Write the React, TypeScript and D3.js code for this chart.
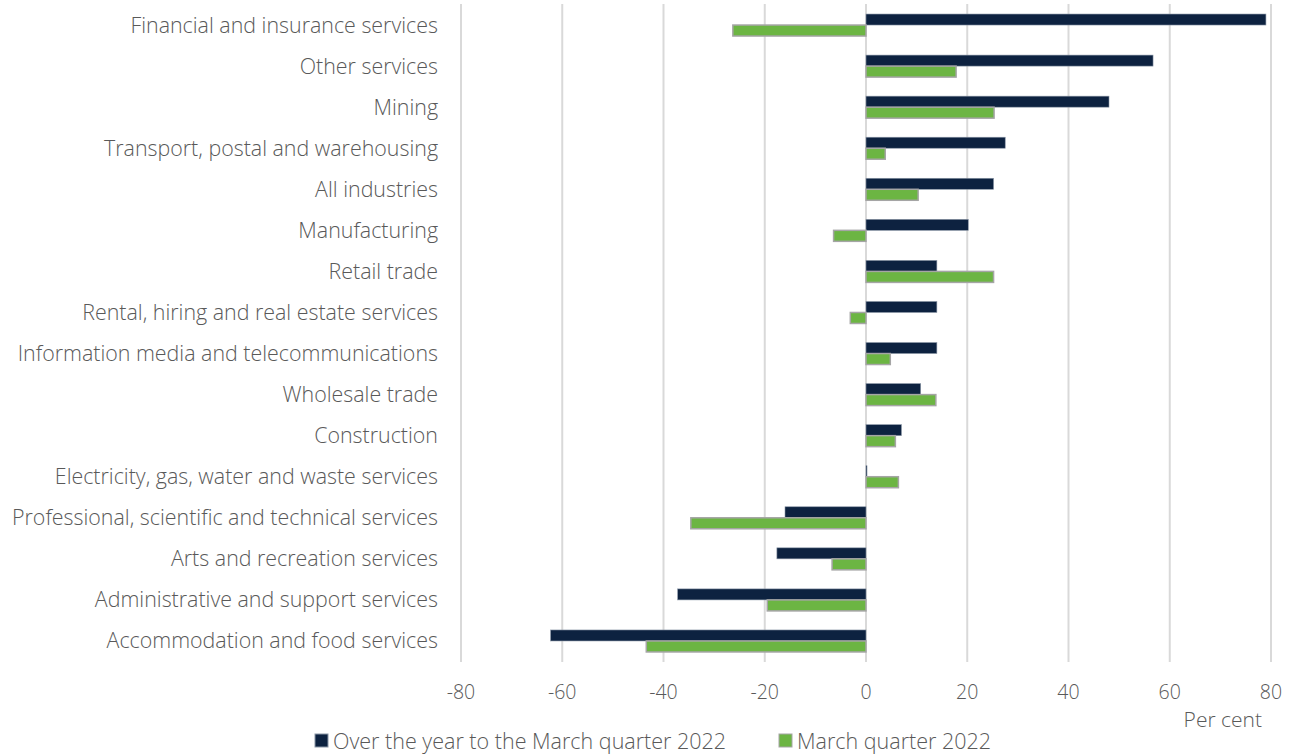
import React, { useEffect, useRef } from "react";
import * as d3 from "d3";

const categories: string[] = [
  "Financial and insurance services",
  "Other services",
  "Mining",
  "Transport, postal and warehousing",
  "All industries",
  "Manufacturing",
  "Retail trade ",
  "Rental, hiring and real estate services",
  "Information media and telecommunications",
  "Wholesale trade",
  "Construction",
  "Electricity, gas, water and waste services ",
  "Professional, scientific and technical services",
  "Arts and recreation services",
  "Administrative and support services",
  "Accommodation and food services",
];

const overYear: number[] = [
  79.0, 56.7, 48.0, 27.5, 25.2, 20.2, 14.0, 14.0, 14.0, 10.8, 7.0, 0.2, -16.0, -17.6, -37.2, -62.3,
];

const marchQuarter: number[] = [
  -26.3, 17.8, 25.3, 3.8, 10.3, -6.4, 25.2, -3.1, 4.8, 13.8, 5.8, 6.4, -34.6, -6.7, -19.5, -43.4,
];

const xTicks: number[] = [-80, -60, -40, -20, 0, 20, 40, 60, 80];

const seriesNames: string[] = ["Over the year to the March quarter 2022", "March quarter 2022"];

const W = 1294;
const H = 756;

export default function App() {
  const ref = useRef<SVGSVGElement | null>(null);

  useEffect(() => {
    const svg = d3.select(ref.current);
    svg.selectAll("*").remove();

    const font = "'Open Sans', Lato, sans-serif";
    const textColor = "#595959";
    const navy = "#0d2240";
    const green = "#6cb543";

    const x = d3.scaleLinear().domain([-80, 80]).range([461, 1271]);
    const y = d3.scaleBand<string>().domain(categories).range([4.5, 661.5]).padding(0);
    const bw = y.bandwidth();
    const barH = 11;

    // gridlines
    svg
      .append("g")
      .selectAll("line")
      .data(xTicks)
      .join("line")
      .attr("x1", (d) => x(d))
      .attr("x2", (d) => x(d))
      .attr("y1", 4)
      .attr("y2", 662)
      .attr("stroke", "#d9d9d9")
      .attr("stroke-width", 2);

    // bars
    const g = svg.append("g");
    categories.forEach((c, i) => {
      const cy = (y(c) as number) + bw / 2;
      const v1 = overYear[i];
      const v2 = marchQuarter[i];
      g.append("rect")
        .attr("x", Math.min(x(0), x(v1)))
        .attr("y", cy - barH)
        .attr("width", Math.abs(x(v1) - x(0)))
        .attr("height", barH)
        .attr("fill", navy)
        .attr("stroke", "#8a96a6")
        .attr("stroke-width", 0.6);
      g.append("rect")
        .attr("x", Math.min(x(0), x(v2)))
        .attr("y", cy)
        .attr("width", Math.abs(x(v2) - x(0)))
        .attr("height", barH)
        .attr("fill", green)
        .attr("stroke", "#a5a5a5")
        .attr("stroke-width", 1.5);
    });

    // category labels
    svg
      .append("g")
      .selectAll("text")
      .data(categories)
      .join("text")
      .attr("x", 438)
      .attr("y", (d) => (y(d) as number) + bw / 2)
      .attr("dy", "0.35em")
      .attr("text-anchor", "end")
      .attr("font-family", font)
      .attr("font-size", 21.4)
      .attr("font-weight", 300)
      .attr("fill", textColor)
      .text((d) => d);

    // x tick labels
    svg
      .append("g")
      .selectAll("text")
      .data(xTicks)
      .join("text")
      .attr("x", (d) => x(d))
      .attr("y", 692)
      .attr("dy", "0.35em")
      .attr("text-anchor", "middle")
      .attr("font-family", font)
      .attr("font-size", 19.5)
      .attr("font-weight", 300)
      .attr("fill", textColor)
      .text((d) => String(d));

    svg
      .append("text")
      .attr("x", 1262)
      .attr("y", 720)
      .attr("dy", "0.35em")
      .attr("text-anchor", "end")
      .attr("font-family", font)
      .attr("font-size", 21)
      .attr("font-weight", 300)
      .attr("fill", textColor)
      .text("Per cent");

    // legend
    const legendX = [315, 779];
    const legendColors = [navy, green];
    const legendStroke = ["#8a96a6", "#a5a5a5"];
    seriesNames.forEach((name, i) => {
      svg
        .append("rect")
        .attr("x", legendX[i])
        .attr("y", 734)
        .attr("width", 13)
        .attr("height", 13)
        .attr("fill", legendColors[i])
        .attr("stroke", legendStroke[i])
        .attr("stroke-width", 1);
      svg
        .append("text")
        .attr("x", legendX[i] + 18)
        .attr("y", 741)
        .attr("dy", "0.35em")
        .attr("font-family", font)
        .attr("font-size", 21.5)
        .attr("font-weight", 300)
        .attr("fill", textColor)
        .text(name);
    });
  }, []);

  return (
    <svg
      ref={ref}
      width={W}
      height={H}
      style={{ position: "absolute", left: 0, top: 0, background: "#ffffff" }}
    />
  );
}
